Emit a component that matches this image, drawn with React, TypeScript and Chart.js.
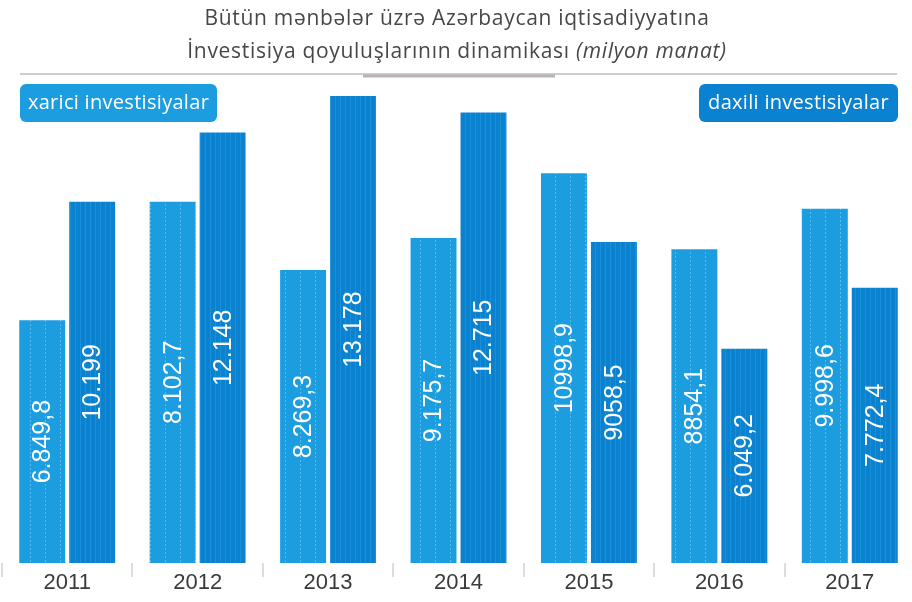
import React, { useEffect, useRef } from "react";
import { Chart, registerables } from "chart.js";

Chart.register(...registerables);

const years = ["2011", "2012", "2013", "2014", "2015", "2016", "2017"];
// bar heights as drawn in the picture
const foreignValues = [6849.8, 10200, 8269.3, 9175.7, 10998.9, 8854.1, 9998.6];
const domesticValues = [10199, 12148, 13178, 12715, 9058.5, 6049.2, 7772.4];
// printed labels
const foreignLabels = ["6.849,8", "8.102,7", "8.269,3", "9.175,7", "10998,9", "8854,1", "9.998,6"];
const domesticLabels = ["10.199", "12.148", "13.178", "12.715", "9058,5", "6.049,2", "7.772,4"];

const seriesNames = ["xarici investisiyalar", "daxili investisiyalar"];
const titleLine1 = "Bütün mənbələr üzrə Azərbaycan iqtisadiyyatına";
const titleLine2a = "İnvestisiya qoyuluşlarının dinamikası ";
const titleLine2b = "(milyon manat)";

const LIGHT = "#1b9de0";
const DARK = "#0b82cf";

function makePattern(base: string, stripe: string, period: number, dotted: boolean) {
  const c = document.createElement("canvas");
  c.width = period;
  c.height = 4;
  const g = c.getContext("2d")!;
  g.fillStyle = base;
  g.fillRect(0, 0, period, 4);
  g.fillStyle = stripe;
  if (dotted) {
    g.fillRect(0, 0, 1, 2);
  } else {
    g.fillRect(0, 0, 1, 4);
  }
  return g.createPattern(c, "repeat")!;
}

const overlayPlugin = {
  id: "overlay",
  beforeDraw(chart: any) {
    const ctx = chart.ctx as CanvasRenderingContext2D;
    ctx.save();
    const cx = 457;
    ctx.fillStyle = "#474747";
    ctx.textBaseline = "alphabetic";
    ctx.textAlign = "left";
    (ctx as any).letterSpacing = "0.7px";
    ctx.font = '21px "Open Sans"';
    const w1 = ctx.measureText(titleLine1).width;
    ctx.fillText(titleLine1, cx - w1 / 2, 25);
    const wa = ctx.measureText(titleLine2a).width;
    ctx.font = 'italic 21px "Open Sans"';
    const wb = ctx.measureText(titleLine2b).width;
    const sx = cx - (wa + wb) / 2;
    ctx.font = '21px "Open Sans"';
    ctx.fillText(titleLine2a, sx, 58);
    ctx.font = 'italic 21px "Open Sans"';
    ctx.fillText(titleLine2b, sx + wa, 58);
    (ctx as any).letterSpacing = "0px";

    // separator line
    ctx.strokeStyle = "#cfcccc";
    ctx.lineWidth = 2;
    ctx.beginPath();
    ctx.moveTo(20, 74);
    ctx.lineTo(897, 74);
    ctx.stroke();
    ctx.strokeStyle = "#b9b3b3";
    ctx.lineWidth = 3;
    ctx.beginPath();
    ctx.moveTo(363, 76);
    ctx.lineTo(555, 76);
    ctx.stroke();

    // legend boxes
    const boxes = [
      { x: 20, w: 197, color: LIGHT },
      { x: 699, w: 199, color: DARK },
    ];
    chart.data.datasets.forEach((ds: any, i: number) => {
      const b = boxes[i];
      ctx.fillStyle = b.color;
      ctx.beginPath();
      (ctx as any).roundRect(b.x, 84, b.w, 38, 6);
      ctx.fill();
      ctx.fillStyle = "#ffffff";
      ctx.font = '20px "Open Sans"';
      (ctx as any).letterSpacing = "0.3px";
      ctx.textAlign = "center";
      ctx.textBaseline = "middle";
      ctx.fillText(ds.label, b.x + b.w / 2, 103);
      (ctx as any).letterSpacing = "0px";
    });
    ctx.restore();
  },
  afterDatasetsDraw(chart: any) {
    const ctx = chart.ctx as CanvasRenderingContext2D;
    const labelSets = [foreignLabels, domesticLabels];
    ctx.save();
    ctx.fillStyle = "#ffffff";
    ctx.font = '25px "Liberation Sans"';
    ctx.textAlign = "center";
    ctx.textBaseline = "middle";
    chart.data.datasets.forEach((_ds: any, i: number) => {
      const meta = chart.getDatasetMeta(i);
      meta.data.forEach((el: any, j: number) => {
        const x = el.x + 1;
        const y = (el.y + el.base) / 2;
        ctx.save();
        ctx.translate(x, y);
        ctx.rotate(-Math.PI / 2);
        ctx.fillText(labelSets[i][j], 0, 0);
        ctx.restore();
      });
    });
    ctx.restore();
  },
};

export default function App() {
  const ref = useRef<HTMLCanvasElement>(null);
  useEffect(() => {
    const lightPat = makePattern(LIGHT, "#58b9ea", 15, true);
    const darkPat = makePattern(DARK, "#1a90d8", 5, false);
    const chart = new Chart(ref.current!, {
      type: "bar",
      data: {
        labels: years,
        datasets: [
          {
            label: seriesNames[0],
            data: foreignValues,
            backgroundColor: lightPat as any,
            categoryPercentage: 0.766,
            barPercentage: 0.92,
          },
          {
            label: seriesNames[1],
            data: domesticValues,
            backgroundColor: darkPat as any,
            categoryPercentage: 0.766,
            barPercentage: 0.92,
          },
        ],
      },
      options: {
        animation: false,
        responsive: true,
        maintainAspectRatio: false,
        layout: { padding: { top: 67, left: 2, right: 2, bottom: 0 } },
        plugins: {
          legend: { display: false },
          title: { display: false },
          tooltip: { enabled: false },
        },
        scales: {
          x: {
            border: { display: false },
            grid: {
              drawOnChartArea: false,
              drawTicks: true,
              tickLength: 14,
              color: "#dcdcdc",
              lineWidth: 2,
            },
            ticks: {
              color: "#3a3a3a",
              padding: -7,
              font: { family: '"Liberation Sans"', size: 22 },
            },
            afterFit(scale: any) {
              scale.height = 39;
            },
          },
          y: {
            display: false,
            min: 0,
            max: 14000,
          },
        },
      },
      plugins: [overlayPlugin],
    });
    return () => chart.destroy();
  }, []);
  return (
    <div style={{ position: "fixed", left: 0, top: 0, width: 912, height: 602, overflow: "hidden", background: "#fff" }}>
      <div style={{ position: "relative", width: 917, height: 602 }}>
        <canvas ref={ref} />
      </div>
    </div>
  );
}
